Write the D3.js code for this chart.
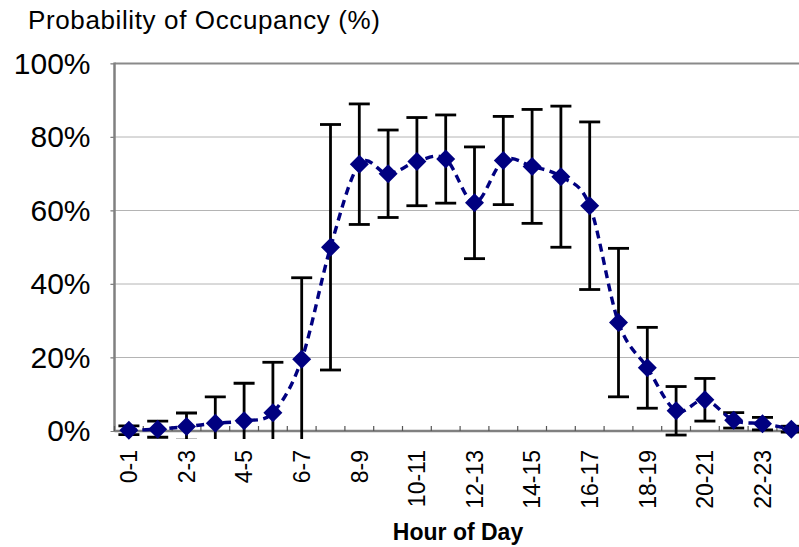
<!DOCTYPE html>
<html>
<head>
<meta charset="utf-8">
<script src="https://cdn.jsdelivr.net/npm/d3@7"></script>
<style>
  html, body { margin: 0; padding: 0; background: #fff; }
  svg { display: block; font-family: "Liberation Sans", Arial, sans-serif; }
</style>
</head>
<body>
<div id="chart"></div>
<script>
// hour-of-day categories
const hours = ['0-1', '1-2', '2-3', '3-4', '4-5', '5-6', '6-7', '7-8', '8-9', '9-10', '10-11', '11-12',
  '12-13', '13-14', '14-15', '15-16', '16-17', '17-18', '18-19', '19-20', '20-21', '21-22', '22-23', '23-24'];

// mean probability of occupancy (%)
const occupancy = [0.2, 0.5, 1.2, 2.1, 2.8, 5.0, 19.5, 50.0, 72.6, 70.0, 73.3, 74.0,
  62.1, 73.6, 72.0, 69.2, 61.3, 29.5, 17.2, 5.5, 8.5, 2.9, 2.0, 0.5];

// +/- error (%)
const spread = [1.2, 2.2, 3.7, 7.2, 10.2, 13.7, 22.2, 33.4, 16.4, 11.9, 12.0, 12.0,
  15.2, 12.0, 15.5, 19.2, 22.8, 20.2, 11.0, 6.6, 5.8, 2.1, 1.7, 0.8];

const yTicks = [0, 20, 40, 60, 80, 100];
const xLabels = hours.filter((d, i) => i % 2 === 0);

const width = 799, height = 547;
const plot = { left: 114.5, top: 63.5, right: 114.5 + 24 * 28.8, bottom: 431 };

const svg = d3.select('#chart').append('svg')
  .attr('width', width)
  .attr('height', height);

const x = d3.scaleBand().domain(hours).range([plot.left, plot.right]);
const y = d3.scaleLinear().domain([0, 100]).range([plot.bottom, plot.top]);

// gridlines
svg.append('g')
  .selectAll('line')
  .data(yTicks.filter(d => d > 0))
  .join('line')
  .attr('x1', plot.left - 4)
  .attr('x2', plot.right)
  .attr('y1', d => y(d))
  .attr('y2', d => y(d))
  .attr('stroke', '#b4b4b4')
  .attr('stroke-width', 1);

// y axis labels
const yAxis = svg.append('g')
  .attr('transform', `translate(${plot.left},0)`)
  .call(d3.axisLeft(y).tickValues(yTicks).tickSize(4).tickPadding(20).tickFormat(d => d + '%'));
yAxis.select('.domain').remove();
yAxis.selectAll('line').attr('stroke', '#808080');
yAxis.selectAll('text')
  .attr('font-size', 30)
  .attr('fill', '#000')
  .attr('font-family', '"Liberation Sans", Arial, sans-serif');

// plot frame
svg.append('line')
  .attr('x1', plot.left).attr('x2', plot.right)
  .attr('y1', plot.top).attr('y2', plot.top)
  .attr('stroke', '#8a8a8a').attr('stroke-width', 2);
svg.append('line')
  .attr('x1', plot.left).attr('x2', plot.left)
  .attr('y1', plot.top - 1).attr('y2', plot.bottom + 1)
  .attr('stroke', '#808080').attr('stroke-width', 2.5);

// x axis
svg.append('line')
  .attr('x1', plot.left).attr('x2', plot.right)
  .attr('y1', plot.bottom).attr('y2', plot.bottom)
  .attr('stroke', '#808080').attr('stroke-width', 2.5);

svg.append('g')
  .selectAll('line')
  .data(hours)
  .join('line')
  .attr('x1', d => x(d))
  .attr('x2', d => x(d))
  .attr('y1', plot.bottom)
  .attr('y2', plot.bottom - 5)
  .attr('stroke', '#555')
  .attr('stroke-width', 1.2);

svg.append('g')
  .selectAll('text')
  .data(xLabels)
  .join('text')
  .attr('transform', d => `translate(${x(d) + x.bandwidth() / 2},450) rotate(-90)`)
  .attr('dy', '0.36em')
  .attr('text-anchor', 'end')
  .attr('font-size', 23)
  .text(d => d);

// error bars, clipped a little below the axis
svg.append('clipPath').attr('id', 'clip')
  .append('rect')
  .attr('x', plot.left).attr('y', 0)
  .attr('width', plot.right - plot.left).attr('height', 439);

const bars = svg.append('g').attr('clip-path', 'url(#clip)')
  .selectAll('g')
  .data(hours)
  .join('g')
  .attr('stroke', '#000')
  .attr('stroke-width', 2.8);

const cx = d => x(d) + x.bandwidth() / 2;
bars.append('line')
  .attr('x1', cx).attr('x2', cx)
  .attr('y1', (d, i) => y(occupancy[i] + spread[i]))
  .attr('y2', (d, i) => y(occupancy[i] - spread[i]));
bars.append('line')
  .attr('x1', d => cx(d) - 10.5).attr('x2', d => cx(d) + 10.5)
  .attr('y1', (d, i) => y(occupancy[i] + spread[i]))
  .attr('y2', (d, i) => y(occupancy[i] + spread[i]));
bars.append('line')
  .attr('x1', d => cx(d) - 10.5).attr('x2', d => cx(d) + 10.5)
  .attr('y1', (d, i) => y(occupancy[i] - spread[i]))
  .attr('y2', (d, i) => y(occupancy[i] - spread[i]));

// smoothed dashed line
const line = d3.line()
  .x((d, i) => cx(hours[i]))
  .y(d => y(d))
  .curve(d3.curveCardinal.tension(0));

svg.append('path')
  .datum(occupancy)
  .attr('d', line)
  .attr('fill', 'none')
  .attr('stroke', '#000080')
  .attr('stroke-width', 3.4)
  .attr('stroke-dasharray', '8,5.5');

// diamond markers
svg.append('g')
  .selectAll('path')
  .data(occupancy)
  .join('path')
  .attr('transform', (d, i) => `translate(${cx(hours[i])},${y(d)})`)
  .attr('d', 'M0,-9.5L9.5,0L0,9.5L-9.5,0Z')
  .attr('fill', '#000080');

// titles
svg.append('text')
  .attr('x', 28)
  .attr('y', 29)
  .attr('font-size', 26)
  .attr('textLength', 352)
  .attr('lengthAdjust', 'spacing')
  .text('Probability of Occupancy (%)');

svg.append('text')
  .attr('x', 458)
  .attr('y', 540)
  .attr('text-anchor', 'middle')
  .attr('font-size', 23)
  .attr('font-weight', 'bold')
  .text('Hour of Day');
</script>
</body>
</html>
